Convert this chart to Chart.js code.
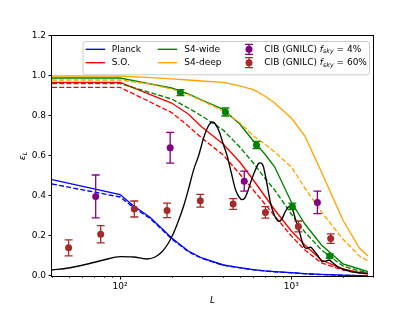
<!DOCTYPE html>
<html><head><meta charset="utf-8">
<script src="https://cdn.jsdelivr.net/npm/chart.js@4.4.0/dist/chart.umd.min.js"></script>
<style>html,body{margin:0;padding:0;background:#fff;}canvas{display:block;}</style>
</head><body>
<canvas id="c" width="415" height="311"></canvas>
<script>
// ---------- data ----------
const expL        = [40,100,150,200,250,300,400,500,600,700,800,1000,1200,1500,2000,2500,2800];
const soSolid     = [0.968,0.968,0.907,0.865,0.81,0.745,0.66,0.57,0.48,0.40,0.33,0.225,0.155,0.08,0.035,0.018,0.012];
const soDashed    = [0.943,0.943,0.87,0.817,0.75,0.69,0.605,0.51,0.43,0.36,0.30,0.20,0.13,0.065,0.03,0.015,0.01];
const s4wideSolid = [0.99,0.99,0.961,0.94,0.91,0.88,0.833,0.76,0.675,0.61,0.545,0.37,0.26,0.155,0.061,0.035,0.022];
const s4wideDashed= [0.962,0.962,0.917,0.885,0.84,0.80,0.73,0.645,0.565,0.49,0.43,0.31,0.22,0.13,0.05,0.025,0.018];
const s4deepSolid = [1.0,1.0,0.992,0.986,0.98,0.975,0.968,0.951,0.932,0.90,0.865,0.79,0.70,0.52,0.28,0.14,0.10];
const s4deepDashed= [0.98,0.98,0.959,0.935,0.907,0.877,0.825,0.766,0.70,0.66,0.62,0.545,0.44,0.32,0.185,0.10,0.075];

const planckL      = [40,100,120,150,200,250,300,400,500,600,700,800,1000,1200,1500,2000,2500,2800];
const planckSolid  = [0.482,0.407,0.35,0.293,0.19,0.125,0.09,0.055,0.042,0.032,0.026,0.022,0.017,0.012,0.008,0.004,0.002,0.001];
const planckDashed = [0.46,0.395,0.342,0.287,0.186,0.122,0.088,0.054,0.041,0.031,0.025,0.021,0.016,0.011,0.007,0.003,0.002,0.001];

const blackL = [40,50,61,80,100,120,143,160,175,190,205,220,235,250,269,287,310,330,345,360,380,400,422,445,472,495,516,535,552,585,618,640,661,685,710,735,756,800,846,880,920,960,990,1020,1060,1108,1150,1186,1230,1260,1298,1360,1419,1521,1590,1661,1750,1860,2000,2225,2500,2786];
const blackV = [0.03,0.04,0.055,0.08,0.097,0.095,0.085,0.095,0.12,0.16,0.214,0.28,0.35,0.43,0.532,0.60,0.70,0.755,0.77,0.76,0.72,0.66,0.60,0.52,0.432,0.395,0.382,0.39,0.415,0.48,0.532,0.56,0.566,0.55,0.49,0.42,0.365,0.30,0.273,0.285,0.32,0.345,0.348,0.33,0.28,0.231,0.18,0.147,0.138,0.142,0.144,0.125,0.105,0.072,0.074,0.08,0.065,0.047,0.035,0.022,0.016,0.013];

const cib4L   = [72,196,531,1420];
const cib4V   = [0.398,0.641,0.474,0.368];
const cib4Err = [0.107,0.077,0.05,0.056];

const cib60L   = [50,77,121,188,294,457,706,1099,1698];
const cib60V   = [0.141,0.209,0.335,0.328,0.376,0.36,0.318,0.248,0.187];
const cib60Err = [0.04,0.043,0.04,0.036,0.032,0.027,0.029,0.027,0.024];

const s4ptsL   = [225,412,626,1014,1676];
const s4ptsV   = [0.917,0.82,0.655,0.348,0.10];
const s4ptsErr = [0.015,0.02,0.018,0.016,0.01];

const xMajor = [100,1000];
const xMinor = [40,50,60,70,80,90,200,300,400,500,600,700,800,900,2000,3000];
const yTicks = [0,0.2,0.4,0.6,0.8,1.0,1.2];
const seriesLabels = ['Planck','S.O.','S4-wide','S4-deep'];
const cibLabels = ['4%','60%'];

// ---------- helpers ----------
const pts = (xs, ys) => xs.map((v,i)=>({x:v,y:ys[i]}));
const LW = 1.35, DASH = [5,2.2], MR = 3.5;
const C = {blue:'#0000ff', red:'#ff0000', green:'#008000', orange:'#ffa500', purple:'#800080', brown:'#a52a2a'};
const lineDs = (label, xs, ys, color, dashed) => ({
  label, data: pts(xs,ys), borderColor: color, borderWidth: LW, borderDash: dashed?DASH:[],
  pointRadius: 0, fill:false, tension:0
});
const ptDs = (label, xs, ys, errs, color) => ({
  label, data: pts(xs,ys), errs, showLine:false, pointRadius:MR, pointHoverRadius:MR,
  pointBackgroundColor: color, pointBorderColor: color, pointBorderWidth:0, borderColor: color
});

// index 0 is drawn on top
const datasets = [
  ptDs('CIB 60%', cib60L, cib60V, cib60Err, C.brown),
  ptDs('CIB 4%', cib4L, cib4V, cib4Err, C.purple),
  ptDs('S4 points', s4ptsL, s4ptsV, s4ptsErr, C.green),
  Object.assign(lineDs('black', blackL, blackV, '#000', false), {cubicInterpolationMode:'monotone'}),
  lineDs('S4-deep dashed', expL, s4deepDashed, C.orange, true),
  lineDs('S4-deep', expL, s4deepSolid, C.orange, false),
  lineDs('S4-wide dashed', expL, s4wideDashed, C.green, true),
  lineDs('S4-wide', expL, s4wideSolid, C.green, false),
  lineDs('S.O. dashed', expL, soDashed, C.red, true),
  lineDs('S.O.', expL, soSolid, C.red, false),
  lineDs('Planck dashed', planckL, planckDashed, C.blue, true),
  lineDs('Planck', planckL, planckSolid, C.blue, false),
];

const FONT = '"DejaVu Sans"';

function drawMath(ctx, parts, x, y) {
  parts.forEach(([t, s]) => {
    if (s === 'sub') { ctx.font = 'italic 6.3px ' + FONT; ctx.fillText(t, x, y + 2.2); }
    else { ctx.font = (s === 'i' ? 'italic ' : '') + '9px ' + FONT; ctx.fillText(t, x, y); }
    x += ctx.measureText(t).width;
  });
  return x;
}
function mathWidth(ctx, parts) {
  let w = 0;
  parts.forEach(([t, s]) => {
    ctx.font = s === 'sub' ? 'italic 6.3px ' + FONT : (s === 'i' ? 'italic ' : '') + '9px ' + FONT;
    w += ctx.measureText(t).width;
  });
  return w;
}
function errMarker(ctx, x, y, color) {
  ctx.strokeStyle = color; ctx.fillStyle = color; ctx.lineWidth = 1.3;
  ctx.beginPath();
  ctx.moveTo(x, y-5); ctx.lineTo(x, y+5);
  ctx.moveTo(x-4, y-5); ctx.lineTo(x+4, y-5);
  ctx.moveTo(x-4, y+5); ctx.lineTo(x+4, y+5);
  ctx.stroke();
  ctx.beginPath(); ctx.arc(x, y, MR, 0, Math.PI*2); ctx.fill();
}

const decor = {
  id: 'decor',
  beforeDatasetDraw(chart, args) {
    const ds = chart.data.datasets[args.index];
    if (!ds.errs) return;
    const {ctx, scales:{x, y}} = chart;
    ctx.save();
    ctx.strokeStyle = ds.pointBackgroundColor; ctx.lineWidth = 1.3;
    ds.data.forEach((p, i) => {
      const px = x.getPixelForValue(p.x);
      const y1 = y.getPixelForValue(p.y - ds.errs[i]);
      const y2 = y.getPixelForValue(p.y + ds.errs[i]);
      ctx.beginPath();
      ctx.moveTo(px, y1); ctx.lineTo(px, y2);
      ctx.moveTo(px-4, y1); ctx.lineTo(px+4, y1);
      ctx.moveTo(px-4, y2); ctx.lineTo(px+4, y2);
      ctx.stroke();
    });
    ctx.restore();
  },
  afterDatasetsDraw(chart) {
    const {ctx, chartArea:a, scales:{x, y}} = chart;
    ctx.save();
    ctx.strokeStyle = '#000';
    ctx.lineWidth = 1;
    ctx.strokeRect(a.left - 0.5, a.top - 0.5, a.right - a.left + 1, a.bottom - a.top + 1);
    ctx.beginPath();
    xMajor.forEach(v => { const px = Math.round(x.getPixelForValue(v)) + 0.5; ctx.moveTo(px, a.bottom); ctx.lineTo(px, a.bottom + 3.5); });
    yTicks.forEach(v => { const py = Math.round(y.getPixelForValue(v)) - 0.5; ctx.moveTo(a.left, py); ctx.lineTo(a.left - 3.5, py); });
    ctx.stroke();
    ctx.lineWidth = 0.7;
    ctx.beginPath();
    xMinor.forEach(v => { const px = Math.round(x.getPixelForValue(v)) + 0.5; ctx.moveTo(px, a.bottom); ctx.lineTo(px, a.bottom + 2); });
    ctx.stroke();
    ctx.restore();
  },
  afterDraw(chart) {
    const {ctx, chartArea:a} = chart;
    ctx.save();
    ctx.fillStyle = '#000'; ctx.textBaseline = 'alphabetic';
    ctx.font = 'italic 9px ' + FONT;
    ctx.textAlign = 'center';
    ctx.fillText('L', (a.left + a.right)/2, 303);
    ctx.textAlign = 'left';
    ctx.save();
    ctx.translate(25, (a.top + a.bottom)/2);
    ctx.rotate(-Math.PI/2);
    const yl = [['ε','i'],['L','sub']];
    drawMath(ctx, yl, -mathWidth(ctx, yl)/2, 0);
    ctx.restore();

    // legend
    const bw = 286.5, bh = 33.3;
    const bx = a.right - 4 - bw, by = a.top + 5;
    ctx.beginPath();
    ctx.roundRect(bx + 0.5, by + 0.5, bw, bh, 2.5);
    ctx.fillStyle = 'rgba(255,255,255,0.8)'; ctx.fill();
    ctx.strokeStyle = '#cccccc'; ctx.lineWidth = 1; ctx.stroke();
    const rows = [by + 8.3, by + 21.7];
    const cols = [
      {l: bx + 3.2, t: bx + 29.2, items: [[seriesLabels[0], C.blue], [seriesLabels[1], C.red]]},
      {l: bx + 75.2, t: bx + 101.8, items: [[seriesLabels[2], C.green], [seriesLabels[3], C.orange]]},
    ];
    ctx.textBaseline = 'middle';
    cols.forEach(c => c.items.forEach(([lab, col], r) => {
      ctx.strokeStyle = col; ctx.lineWidth = LW;
      ctx.beginPath(); ctx.moveTo(c.l, rows[r]); ctx.lineTo(c.l + 19.5, rows[r]); ctx.stroke();
      ctx.fillStyle = '#000'; ctx.font = '9px ' + FONT;
      ctx.fillText(lab, c.t, rows[r]);
    }));
    [[cibLabels[0], C.purple], [cibLabels[1], C.brown]].forEach(([pct, col], r) => {
      errMarker(ctx, bx + 166.5, rows[r], col);
      ctx.fillStyle = '#000';
      drawMath(ctx, [['CIB (GNILC) ','r'],['f','i'],['sky','sub'],[' = ' + pct,'r']], bx + 181.8, rows[r]);
    });
    ctx.restore();
  }
};

new Chart(document.getElementById('c'), {
  type: 'line',
  data: { datasets },
  options: {
    responsive: false, animation: false, devicePixelRatio: 1,
    layout: { padding: { top: 36, right: 42, left: 0, bottom: 0 } },
    plugins: { legend: { display: false }, tooltip: { enabled: false } },
    events: [],
    scales: {
      x: {
        type: 'logarithmic', min: 40, max: 3000,
        afterBuildTicks: s => { s.ticks = xMajor.map(v => ({value: v})); },
        afterFit: s => { s.height = 35; },
        grid: { display: false, drawTicks: false },
        border: { display: false },
        ticks: {
          autoSkip: false, maxRotation: 0, padding: 5, color: '#000',
          font: { family: 'DejaVu Sans', size: 9 },
          callback: v => v === 100 ? '10²' : v === 1000 ? '10³' : ''
        }
      },
      y: {
        min: 0, max: 1.2,
        afterBuildTicks: s => { s.ticks = yTicks.map(v => ({value: v})); },
        afterFit: s => { s.width = 52; },
        grid: { display: false, drawTicks: false },
        border: { display: false },
        ticks: {
          padding: 6, color: '#000',
          font: { family: 'DejaVu Sans', size: 9 },
          callback: v => Number(v).toFixed(1)
        }
      }
    }
  },
  plugins: [decor]
});
</script>
</body></html>
